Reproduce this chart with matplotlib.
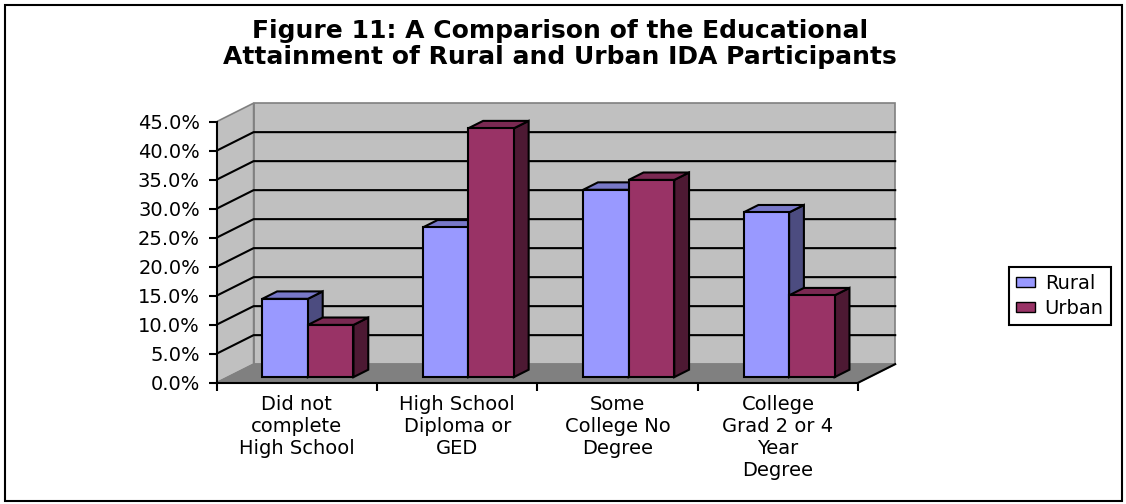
import matplotlib
matplotlib.use("Agg")
import matplotlib.pyplot as plt
from matplotlib.patches import Polygon, Rectangle, Patch

categories = ["Did not\ncomplete\nHigh School",
              "High School\nDiploma or\nGED",
              "Some\nCollege No\nDegree",
              "College\nGrad 2 or 4\nYear\nDegree"]
series = ["Rural", "Urban"]
rural = [13.5, 25.8, 32.3, 28.4]
urban = [9.0, 42.9, 34.0, 14.1]
yticks = [0, 5, 10, 15, 20, 25, 30, 35, 40, 45]
ytick_labels = ["%.1f%%" % v for v in yticks]
title = "Figure 11: A Comparison of the Educational\nAttainment of Rural and Urban IDA Participants"

# colours: front, top, side
RURAL = ("#9999FF", "#7878C8", "#4C4C80")
URBAN = ("#993366", "#7A2952", "#4D1933")
WALL = "#C0C0C0"
FLOOR = "#808080"

# oblique depth offset (data units), bar depth span and width
DX, DY = 0.2307, 3.2
F0, F1 = 0.3, 0.7
BW = 0.284
YMAX = 45


def draw_bar(ax, x0, x1, h, cols, z):
    front = [(x0 + F0 * DX, F0 * DY), (x1 + F0 * DX, F0 * DY),
             (x1 + F0 * DX, h + F0 * DY), (x0 + F0 * DX, h + F0 * DY)]
    top = [(x0 + F0 * DX, h + F0 * DY), (x1 + F0 * DX, h + F0 * DY),
           (x1 + F1 * DX, h + F1 * DY), (x0 + F1 * DX, h + F1 * DY)]
    side = [(x1 + F0 * DX, F0 * DY), (x1 + F1 * DX, F1 * DY),
            (x1 + F1 * DX, h + F1 * DY), (x1 + F0 * DX, h + F0 * DY)]
    for pts, c in [(side, cols[2]), (top, cols[1]), (front, cols[0])]:
        ax.add_patch(Polygon(pts, closed=True, fc=c, ec="black", lw=1.5,
                             joinstyle="miter", zorder=z, clip_on=False))


def main():
    fig = plt.figure(figsize=(11.26, 5.04), dpi=100)
    fig.patches.append(Rectangle((4.5 / 1126, 3.5 / 504), 1117 / 1126, 496 / 504,
                                 transform=fig.transFigure, fill=False,
                                 ec="black", lw=1.5))

    ax = fig.add_axes([216.6 / 1126, 121.3 / 504, 683.4 / 1126, 282.7 / 504])
    ax.set_xlim(-0.5, -0.5 + 683.4 / 160.4)
    ax.set_ylim(0, 282.7 / 5.8)
    ax.patch.set_visible(False)

    n = len(categories)
    xl, xr = -0.5, n - 0.5
    # walls and floor
    ax.add_patch(Polygon([(xl + DX, DY), (xr + DX, DY), (xr + DX, YMAX + DY), (xl + DX, YMAX + DY)],
                         fc=WALL, ec=FLOOR, lw=1.2, zorder=1))
    ax.add_patch(Polygon([(xl, 0), (xl + DX, DY), (xl + DX, YMAX + DY), (xl, YMAX)],
                         fc=WALL, ec=FLOOR, lw=1.2, zorder=1))
    ax.add_patch(Polygon([(xl, 0), (xr, 0), (xr + DX, DY), (xl + DX, DY)],
                         fc=FLOOR, ec=FLOOR, lw=1, zorder=1))
    for v in yticks[1:-1]:
        ax.plot([xl, xl + DX, xr + DX], [v, v + DY, v + DY], color="black", lw=1.5, zorder=2)
    ax.plot([xr, xr + DX], [0, DY], color="black", lw=1.5, zorder=2, clip_on=False)

    z = 3
    for i in range(n):
        draw_bar(ax, i - BW, i, rural[i], RURAL, z)
        draw_bar(ax, i, i + BW, urban[i], URBAN, z + 1)
        z += 2

    for s in ["top", "right"]:
        ax.spines[s].set_visible(False)
    ax.spines["left"].set_bounds(0, YMAX)
    ax.spines["bottom"].set_bounds(xl, xr)
    ax.spines["left"].set_linewidth(1.5)
    ax.spines["bottom"].set_linewidth(1.5)
    ax.spines["left"].set_zorder(20)
    ax.spines["bottom"].set_zorder(20)

    ax.set_yticks(yticks, ytick_labels)
    ax.tick_params(axis="y", direction="out", length=6, width=1.5, pad=6, labelsize=14)
    ax.set_xticks([i - 0.5 for i in range(n + 1)])
    ax.set_xticklabels([])
    ax.set_xticks(range(n), categories, minor=True)
    ax.tick_params(axis="x", which="major", direction="out", length=6, width=1.5)
    ax.tick_params(axis="x", which="minor", length=0, pad=9, labelsize=14)
    for t in ax.get_xticklabels(minor=True):
        t.set_linespacing(1.2)

    handles = [Patch(fc=RURAL[0], ec="black", lw=1), Patch(fc=URBAN[0], ec="black", lw=1)]
    leg = fig.legend(handles, series, loc="center left",
                     bbox_to_anchor=(999 / 1126, (504 - 296) / 504),
                     fontsize=14, frameon=True, fancybox=False, framealpha=1,
                     edgecolor="black", handlelength=1.0, handleheight=0.45,
                     borderpad=0.35, labelspacing=0.3, handletextpad=0.5)
    leg.get_frame().set_linewidth(1.5)

    fig.text(0.497, (504 - 44) / 504, title, ha="center", va="center",
             fontsize=18, fontweight="bold", linespacing=1.1)

    fig.savefig("out.png", dpi=100)


if __name__ == "__main__":
    main()
